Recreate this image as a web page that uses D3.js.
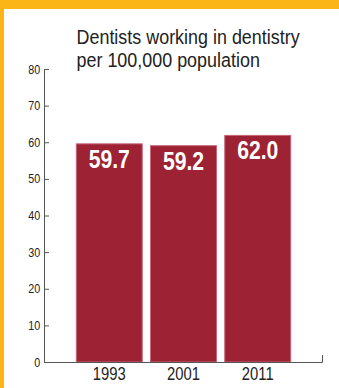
<!DOCTYPE html>
<html><head><meta charset="utf-8">
<script src="https://cdn.jsdelivr.net/npm/d3@7"></script>
<style>
html,body{margin:0;padding:0;background:#fff;}
svg{display:block;}
text{font-family:"Liberation Sans",Arial,sans-serif;}
</style></head>
<body>
<svg id="c" width="339" height="388"></svg>
<script>
const categories = ["1993", "2001", "2011"];
const values = [59.7, 59.2, 62.0];
const valueLabels = ["59.7", "59.2", "62.0"];
const yTicks = [0, 10, 20, 30, 40, 50, 60, 70, 80];
const titleLines = ["Dentists working in dentistry", "per 100,000 population"];

const svg = d3.select("#c");
// frame
svg.append("rect").attr("x",0).attr("y",0).attr("width",339).attr("height",9).attr("fill","#FBB517");
svg.append("rect").attr("x",0).attr("y",0).attr("width",4).attr("height",388).attr("fill","#FBB517");

const y = d3.scaleLinear().domain([0,80]).range([362,69]);
const x = d3.scaleBand().domain(categories).range([75.8,291.2]).paddingInner(0.098).paddingOuter(0);

// bars
svg.selectAll("rect.bar").data(values).enter().append("rect")
  .attr("class","bar")
  .attr("x",(d,i)=>x(categories[i])+0.5)
  .attr("y",d=>y(d)+0.5)
  .attr("width",x.bandwidth()-1)
  .attr("height",d=>y(0)-y(d)-0.5)
  .attr("fill","#9D2334")
  .attr("stroke","#C56676")
  .attr("stroke-width",1);

svg.selectAll("text.val").data(values).enter().append("text")
  .attr("class","val")
  .attr("transform",(d,i)=>`translate(${x(categories[i])+x.bandwidth()/2},${y(d)+24.5}) scale(0.83,1)`)
  .attr("text-anchor","middle")
  .attr("fill","#fff")
  .attr("font-weight","bold")
  .attr("font-size",25.5)
  .text((d,i)=>valueLabels[i]);

// y axis
const yAxis = d3.axisRight(y).tickValues(yTicks).tickSize(5).tickFormat(d3.format("d"));
const gy = svg.append("g").attr("transform","translate(44,0)").call(yAxis);
gy.select(".domain").remove();
gy.selectAll(".tick line").attr("stroke","#555");
gy.selectAll(".tick text").attr("x",-4.5).attr("text-anchor","end").attr("font-size",12.5).attr("fill","#222")
  .attr("transform","scale(0.86,1)");
svg.append("line").attr("x1",44.5).attr("x2",44.5).attr("y1",y(80)).attr("y2",y(0)).attr("stroke","#555");

// x axis baseline
svg.append("path").attr("d",`M44.5,${y(0)+0.5}H322.5V${y(0)-7}`).attr("fill","none").attr("stroke","#555");
const xAxis = d3.axisBottom(x).tickSize(0).tickPadding(5);
const gx = svg.append("g").attr("transform",`translate(0,${y(0)})`).call(xAxis);
gx.select(".domain").remove();
gx.selectAll(".tick text").attr("font-size",18.5).attr("fill","#222").attr("transform","scale(0.8,1)");

// title
svg.selectAll("text.title").data(titleLines).enter().append("text")
  .attr("class","title")
  .attr("transform",(d,i)=>`translate(76.5,${44+i*22.5}) scale(0.92,1)`)
  .attr("font-size",19.5).attr("fill","#222")
  .text(d=>d);
</script>
</body></html>
